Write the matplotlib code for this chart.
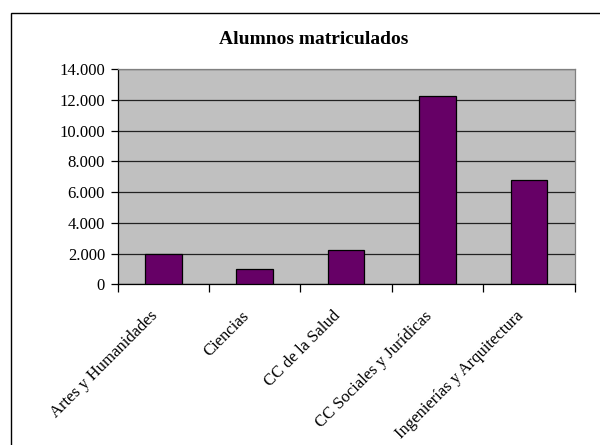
import matplotlib
matplotlib.use("Agg")
import matplotlib.pyplot as plt
import matplotlib.transforms as mtransforms
from matplotlib.patches import Rectangle
from matplotlib.ticker import FuncFormatter, FixedLocator, NullFormatter
import numpy as np

categories = ["Artes y Humanidades", "Ciencias", "CC de la Salud",
              "CC Sociales y Jurídicas", "Ingenierías y Arquitectura"]
alumnos = [2000, 980, 2210, 12230, 6790]
y_ticks = [0, 2000, 4000, 6000, 8000, 10000, 12000, 14000]

plt.rcParams["font.family"] = ["Liberation Serif", "DejaVu Serif"]

fig = plt.figure(figsize=(6, 4.45), dpi=100)
ax = fig.add_axes([0.196, 0.361, 0.762, 0.484])

x = np.arange(len(categories))
ax.bar(x, alumnos, width=0.4, color="#660066", edgecolor="black",
       linewidth=0.9, zorder=3)

ax.set_facecolor("#c0c0c0")
ax.set_xlim(-0.5, len(categories) - 0.5)
ax.set_ylim(0, 14000)
ax.set_yticks(y_ticks)
ax.yaxis.set_major_formatter(FuncFormatter(lambda v, p: f"{int(v):,}".replace(",", ".")))
ax.grid(axis="y", color="#222222", linewidth=0.9, zorder=1)

# ticks on the category boundaries
ax.xaxis.set_major_locator(FixedLocator(np.arange(-0.5, len(categories), 1.0)))
ax.xaxis.set_major_formatter(NullFormatter())
ax.tick_params(axis="x", length=6, width=0.9, direction="out")
ax.tick_params(axis="y", length=5, width=0.9, direction="out", labelsize=12, pad=4)

# rotated category labels, end of text just left of the category centre
trans = mtransforms.blended_transform_factory(ax.transData, ax.transAxes)
trans = trans + mtransforms.ScaledTranslation(-10 / 72, -17 / 72, fig.dpi_scale_trans)
for xi, name in zip(x, categories):
    ax.text(xi, 0, name, transform=trans, rotation=45, rotation_mode="anchor",
            ha="right", va="top", fontsize=12, clip_on=False)

for s in ["top", "right"]:
    ax.spines[s].set_color("#808080")
    ax.spines[s].set_linewidth(0.9)
for s in ["left", "bottom"]:
    ax.spines[s].set_color("black")
    ax.spines[s].set_linewidth(0.9)

fig.text(0.522, 1 - 39 / 445, "Alumnos matriculados", ha="center", va="center",
         fontsize=14, fontweight="bold")

fig.patches.append(Rectangle((11 / 600, -0.1), 1.0, 1 - 13 / 445 + 0.1,
                             transform=fig.transFigure, fill=False,
                             edgecolor="black", linewidth=1.0))

fig.savefig("out.png", dpi=100)
